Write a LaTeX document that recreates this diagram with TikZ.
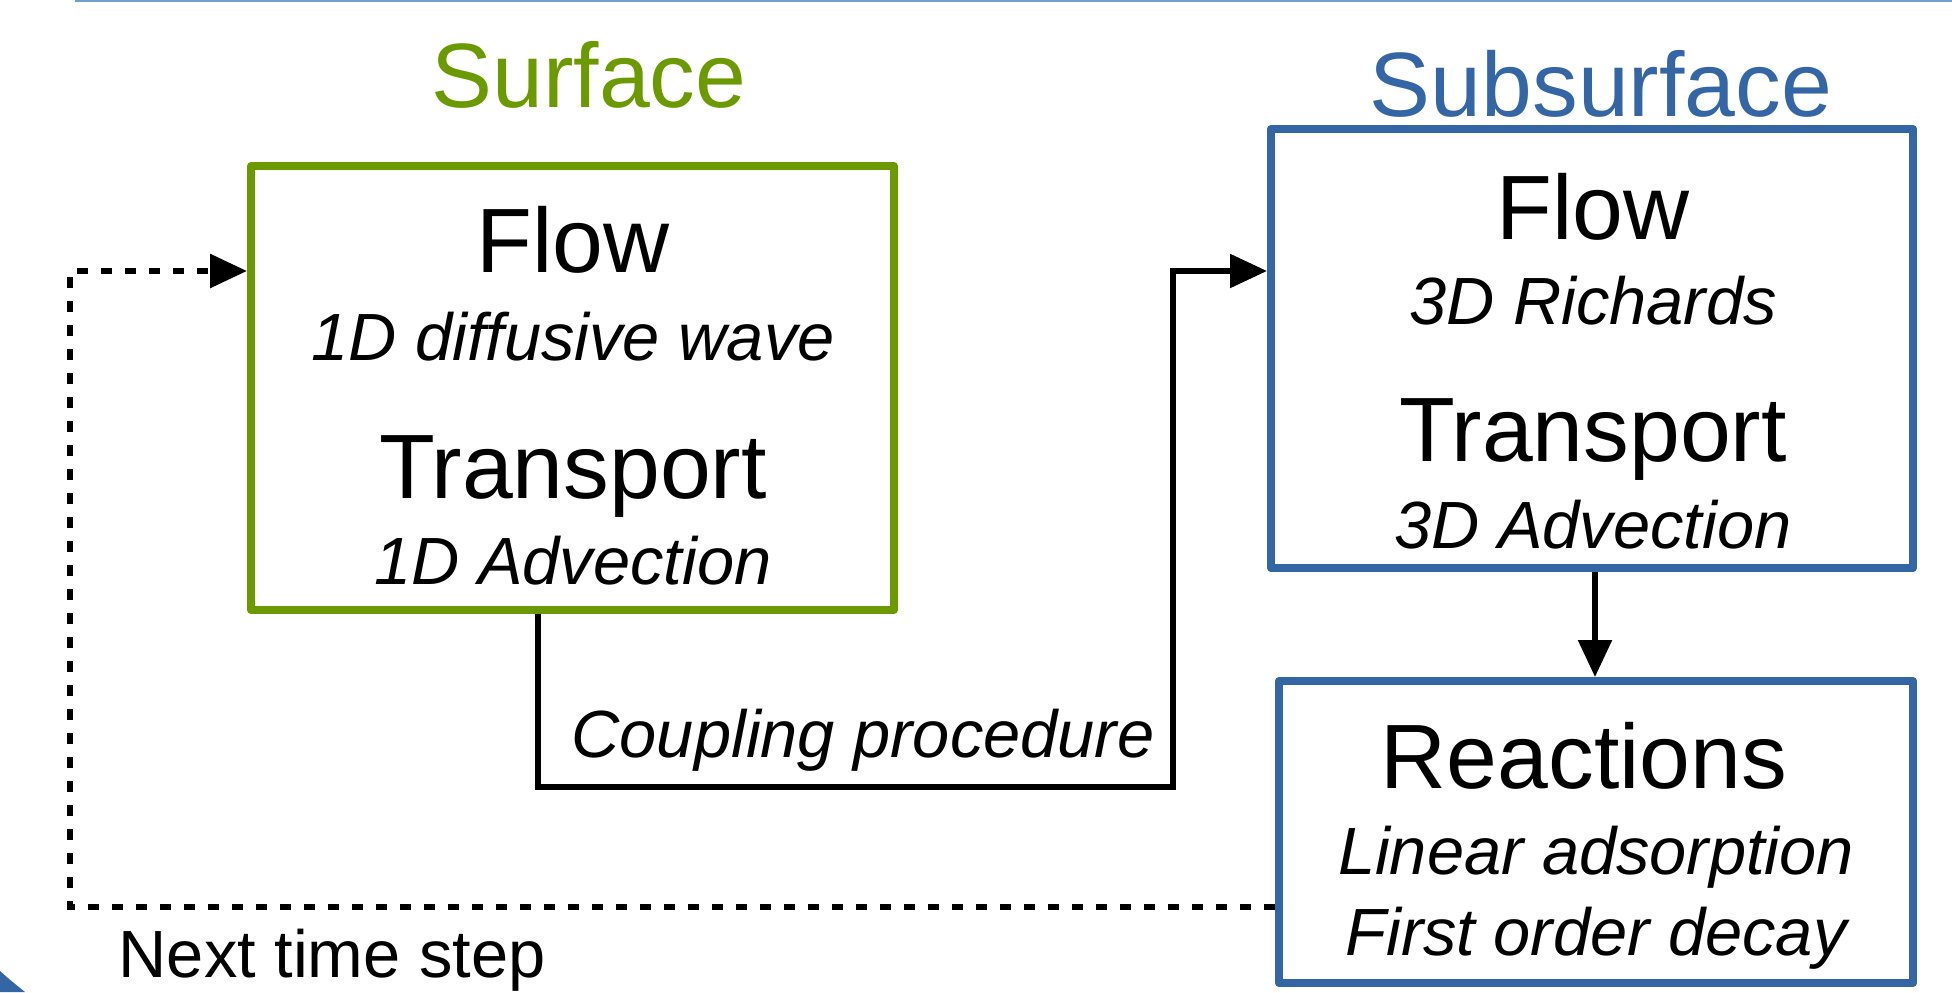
\documentclass[tikz,border=0pt]{standalone}
\usepackage{fontspec}
\setmainfont{Liberation Sans}
\usetikzlibrary{arrows.meta}

\definecolor{surfgreen}{HTML}{6A9A00}
\definecolor{subblue}{HTML}{3465A4}
\definecolor{edgeblue}{HTML}{729FCF}

\newcommand{\bigfont}{\fontsize{26}{31}\selectfont}
\newcommand{\smallfont}{\fontsize{19}{23}\selectfont}

\tikzset{
  model/.style={draw, line width=0.08cm, line join=round, rectangle, inner sep=0pt},
  heading/.style={anchor=base, font=\bigfont},
  detail/.style={anchor=base, font=\smallfont\itshape},
  conn/.style={line width=0.055cm, -{Triangle[length=0.37cm, width=0.33cm]}},
  loopback/.style={conn, line width=0.06cm, dash pattern=on 0.11cm off 0.13cm}
}

\begin{document}
\begin{tikzpicture}
  \useasboundingbox (0,0) rectangle (19.52,9.92);
  % Slide remnants at the edges
  \draw[edgeblue, line width=0.02cm] (0.75,9.91) -- (19.52,9.91);
  \fill[subblue] (0,0) -- (0,0.21) .. controls (0.09,0.13) .. (0.25,0) -- cycle;

  % Boxes
  \node[model, surfgreen, minimum width=6.43cm, minimum height=4.44cm] (surf) at (5.725,6.04) {};
  \node[model, subblue, minimum width=6.42cm, minimum height=4.39cm] (subflow) at (15.92,6.435) {};
  \node[model, subblue, minimum width=6.34cm, minimum height=3.02cm] (react) at (15.96,1.60) {};

  % Titles
  \node[heading, surfgreen] (surftitle) at (5.89,8.85) {Surface};
  \node[heading, subblue] (subtitle) at (16.01,8.75) {Subsurface};

  % Surface contents
  \node[heading] (surfflow) at (5.73,7.20) {Flow};
  \node[detail] (surfwave) at (5.73,6.32) {1D diffusive wave};
  \node[heading] (surftrans) at (5.73,4.94) {Transport};
  \node[detail] (surfadv) at (5.73,4.08) {1D Advection};

  % Subsurface contents
  \node[heading] (subflowtxt) at (15.93,7.53) {Flow};
  \node[detail] (subrich) at (15.93,6.68) {3D Richards};
  \node[heading] (subtrans) at (15.93,5.31) {Transport};
  \node[detail] (subadv) at (15.93,4.44) {3D Advection};

  % Reactions contents
  \node[heading] (reacttxt) at (15.84,2.04) {Reactions};
  \node[detail] (reactads) at (15.96,1.18) {Linear adsorption};
  \node[detail] (reactdecay) at (15.96,0.37) {First order decay};

  % Coupling path
  \coordinate (C1) at (5.38,2.05);
  \coordinate (C2) at (11.73,2.05);
  \coordinate (C3) at (11.73,7.21);
  \draw[conn] (surf.south -| C1) -- (C1) -- (C2) -- (C3) -- (C3 -| subflow.west);
  \node[detail] (cpl) at (8.63,2.35) {Coupling procedure};

  % Flow to reactions
  \draw[conn] (15.95,0 |- subflow.south) -- (15.95,0 |- react.north);

  % Next time step
  \coordinate (N1) at (0.70,0.85);
  \coordinate (N2) at (0.70,7.21);
  \draw[loopback] (react.west |- N1) -- (N1) -- (N2) -- (N2 -| surf.west);
  \node[anchor=base west, font=\smallfont, inner sep=0pt] (next) at (1.18,0.15) {Next time step};
\end{tikzpicture}
\end{document}
